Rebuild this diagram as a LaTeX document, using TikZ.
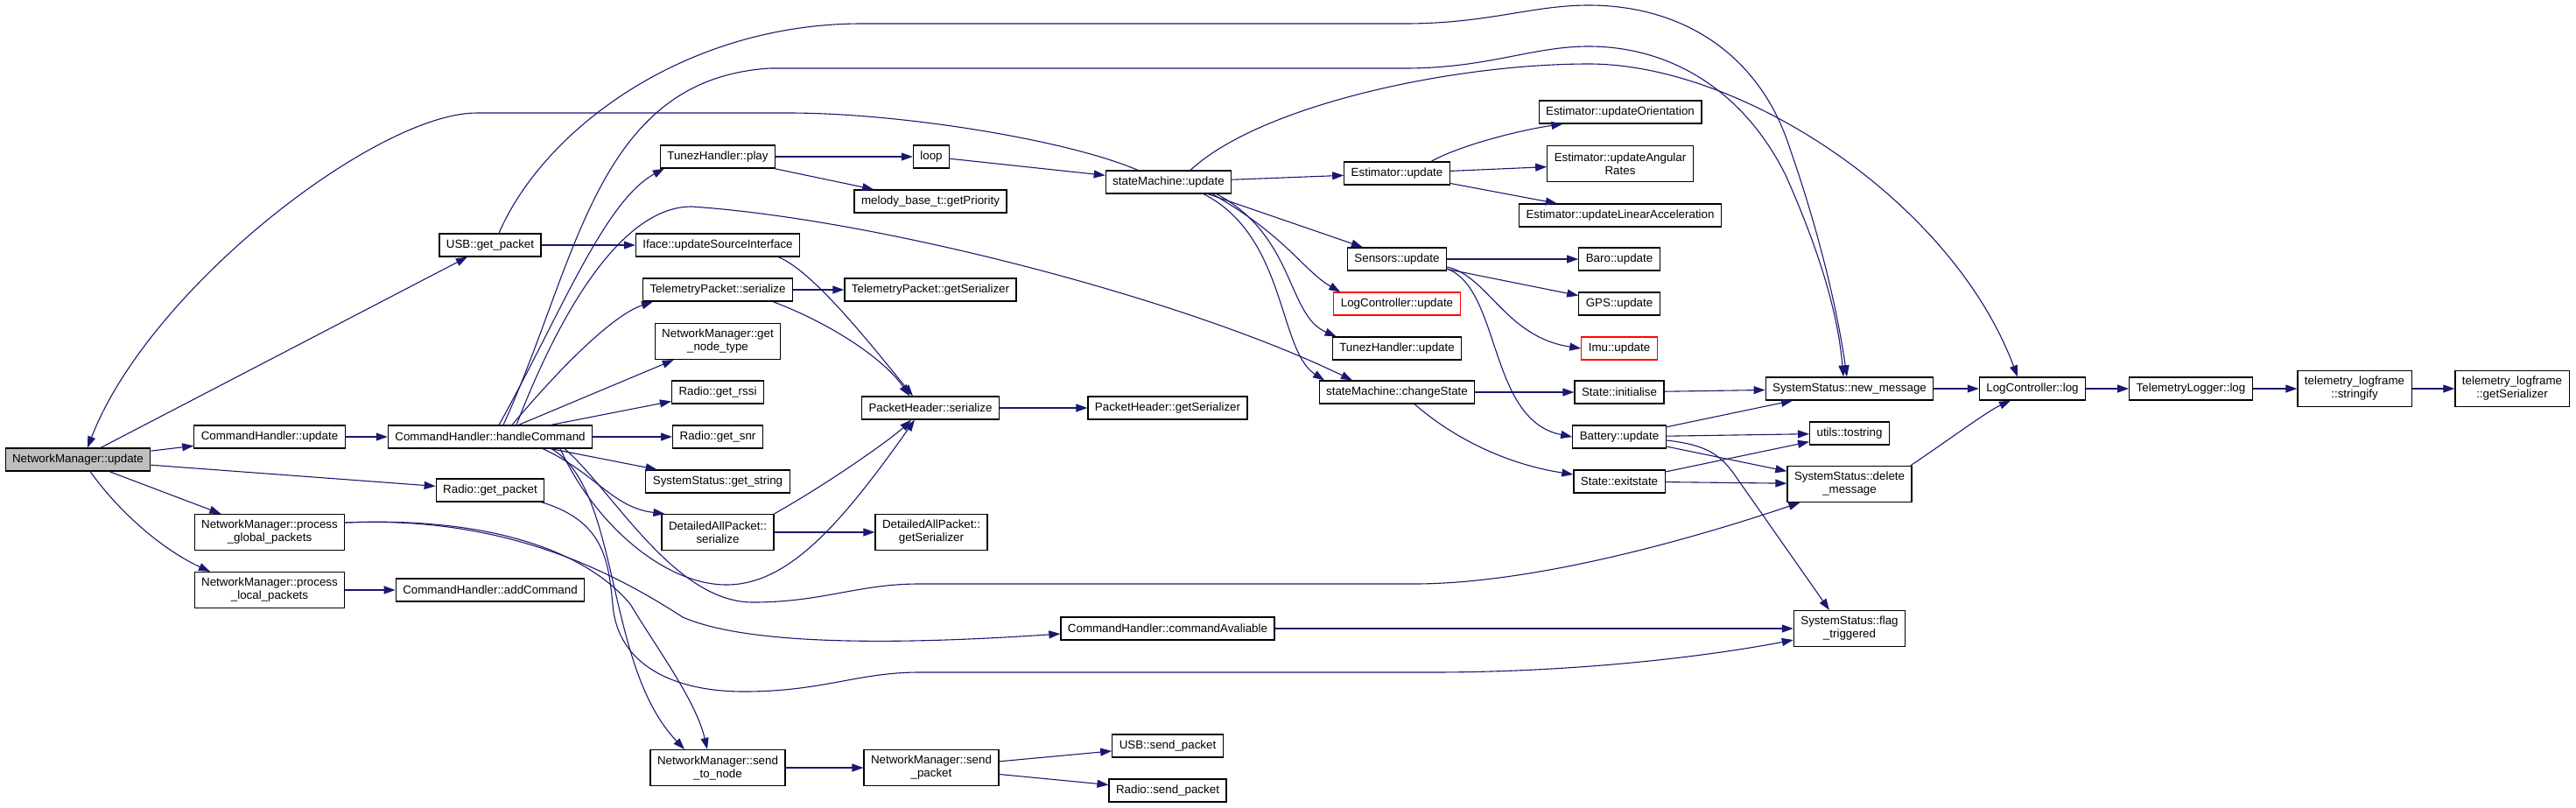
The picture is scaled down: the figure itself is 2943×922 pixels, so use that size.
\documentclass[tikz,border=0pt]{standalone}
\usepackage{fontspec}
\setmainfont{Liberation Sans}
\usetikzlibrary{arrows.meta, calc}
\definecolor{edgeblue}{RGB}{25,25,112}
\definecolor{rootgray}{RGB}{191,191,191}

\begin{document}
\begin{tikzpicture}[
  x=0.5pt, y=-0.5pt,
  fn/.style={rectangle, draw=black, line width=0.6pt, fill=white, inner xsep=4pt, inner ysep=1pt,
    minimum height=13pt, align=center, font=\fontsize{6.67pt}{7.5pt}\selectfont},
  fntwo/.style={fn, minimum height=20.5pt},
  root/.style={fn, fill=rootgray},
  trunc/.style={fn, draw=red},
  call/.style={draw=edgeblue, line width=0.55pt, -{Triangle[length=6.5pt, width=4.5pt]}}
]
\useasboundingbox (0,0) rectangle (2943,922);

% functions
\node[root]  (nmupd)    at (89,525)  {NetworkManager::update};
\node[fn]    (usbget)   at (560,280) {USB::get\_packet};
\node[fn]    (chupd)    at (308,499) {CommandHandler::update};
\node[fn]    (handle)   at (560,499) {CommandHandler::handleCommand};
\node[fn]    (radioget) at (560,560) {Radio::get\_packet};
\node[fntwo] (global)   at (308,608) {NetworkManager::process\\\_global\_packets};
\node[fntwo] (local)    at (308,674) {NetworkManager::process\\\_local\_packets};
\node[fn]    (addcmd)   at (560,674) {CommandHandler::addCommand};
\node[fn]    (play)     at (820,179) {TunezHandler::play};
\node[fn]    (iface)    at (820,280) {Iface::updateSourceInterface};
\node[fn]    (tpser)    at (820,331) {TelemetryPacket::serialize};
\node[fntwo] (nodetype) at (820,390) {NetworkManager::get\\\_node\_type};
\node[fn]    (rssi)     at (820,448) {Radio::get\_rssi};
\node[fn]    (snr)      at (820,499) {Radio::get\_snr};
\node[fn]    (getstr)   at (820,550) {SystemStatus::get\_string};
\node[fntwo] (daser)    at (820,608) {DetailedAllPacket::\\serialize};
\node[fntwo] (sendnode) at (820,877) {NetworkManager::send\\\_to\_node};
\node[fn]    (loop)     at (1064,179) {loop};
\node[fn]    (prio)     at (1063,230) {melody\_base\_t::getPriority};
\node[fn]    (tpgetser) at (1063,331) {TelemetryPacket::getSerializer};
\node[fn]    (phser)    at (1063,466) {PacketHeader::serialize};
\node[fntwo] (dagetser) at (1064,608) {DetailedAllPacket::\\getSerializer};
\node[fntwo] (sendpkt)  at (1064,877) {NetworkManager::send\\\_packet};
\node[fn]    (smupd)    at (1335,208) {stateMachine::update};
\node[fn]    (phgetser) at (1334,466) {PacketHeader::getSerializer};
\node[fn]    (cmdavail) at (1334,718) {CommandHandler::commandAvaliable};
\node[fn]    (usbsend)  at (1334,852) {USB::send\_packet};
\node[fn]    (radiosend) at (1334,903) {Radio::send\_packet};
\node[fn]    (estupd)   at (1596,198) {Estimator::update};
\node[fn]    (sensors)  at (1596,296) {Sensors::update};
\node[trunc] (logupd)   at (1596,347) {LogController::update};
\node[fn]    (tunezupd) at (1596,398) {TunezHandler::update};
\node[fn]    (change)   at (1596,448) {stateMachine::changeState};
\node[fn]    (orient)   at (1851,128) {Estimator::updateOrientation};
\node[fntwo] (angular)  at (1851,187) {Estimator::updateAngular\\Rates};
\node[fn]    (linacc)   at (1851,246) {Estimator::updateLinearAcceleration};
\node[fn]    (baro)     at (1850,296) {Baro::update};
\node[fn]    (gps)      at (1850,347) {GPS::update};
\node[trunc] (imu)      at (1850,398) {Imu::update};
\node[fn]    (init)     at (1850,448) {State::initialise};
\node[fn]    (battery)  at (1850,499) {Battery::update};
\node[fn]    (exitst)   at (1850,550) {State::exitstate};
\node[fn]    (newmsg)   at (2113,444) {SystemStatus::new\_message};
\node[fn]    (tostr)    at (2113,495) {utils::tostring};
\node[fntwo] (delmsg)   at (2113,553) {SystemStatus::delete\\\_message};
\node[fntwo] (flag)     at (2113,718) {SystemStatus::flag\\\_triggered};
\node[fn]    (logctl)   at (2322,444) {LogController::log};
\node[fn]    (tlmlog)   at (2503,444) {TelemetryLogger::log};
\node[fntwo] (stringify) at (2690,444) {telemetry\_logframe\\::stringify};
\node[fntwo] (frameser) at (2870,444) {telemetry\_logframe\\::getSerializer};

% NetworkManager::update
\draw[call] (nmupd) -- (usbget);
\draw[call] (nmupd) -- (chupd);
\draw[call] (nmupd) -- (radioget);
\draw[call] (nmupd) -- (global);
\draw[call] ($(nmupd.south)+(14,0)$) .. controls (140,590) and (190,630) .. ($(local.north)+(-68,0)$);
\draw[call] (local) -- (addcmd);
\draw[call] ($(global.east)+(0,-11)$) .. controls (560,590) and (680,640) .. (780,705)
  .. controls (860,740) and (1050,735) .. ($(cmdavail.west)+(0,6)$);
\draw[call] ($(global.east)+(0,-11)$) .. controls (560,590) and (670,630) .. (720,690)
  .. controls (750,740) and (795,800) .. ($(sendnode.north)+(-12,0)$);

% Radio::get_packet
\draw[call] ($(radioget.south east)+(-4,0)$) .. controls (690,595) and (695,640) .. (700,690)
  .. controls (705,760) and (770,790) .. (850,790) .. controls (940,790) and (980,768) .. (1050,768)
  -- (1635,768) .. controls (1800,768) and (1950,750) .. ($(flag.west)+(0,13)$);

% CommandHandler::handleCommand
\draw[call] (chupd) -- (handle);
\draw[call] (handle) -- (snr);
\draw[call] (handle) -- (nodetype);
\draw[call] (handle) -- (rssi);
\draw[call] (handle) -- (getstr);
\draw[call] ($(handle.north)+(10,0)$) .. controls (640,360) and (690,230) .. ($(play.south west)+(5,0)$);
\draw[call] ($(handle.north)+(25,0)$) .. controls (640,420) and (700,360) .. ($(tpser.south west)+(12,0)$);
\draw[call] ($(handle.north)+(15,0)$) .. controls (660,300) and (680,90) .. (880,78) -- (1605,78)
  .. controls (1700,78) and (1750,53) .. (1815,53) .. controls (1905,53) and (1990,100) .. (2040,200)
  .. controls (2080,290) and (2100,360) .. ($(newmsg.north)+(-7,0)$);
\draw[call] ($(handle.north)+(30,0)$) .. controls (650,330) and (720,236) .. (790,236)
  .. controls (1000,250) and (1350,340) .. ($(change.north)+(-51,0)$);
\draw[call] ($(handle.south)+(60,0)$) .. controls (680,540) and (700,580) .. ($(daser.north west)+(4,0)$);
\draw[call] ($(handle.south)+(80,0)$) .. controls (680,600) and (760,668) .. (830,668)
  .. controls (900,668) and (960,600) .. ($(phser.south)+(-18,0)$);
\draw[call] ($(handle.south)+(85,0)$) .. controls (700,560) and (770,688) .. (860,688)
  .. controls (940,688) and (980,667) .. (1050,667) -- (1615,667)
  .. controls (1760,667) and (1950,610) .. ($(delmsg.south west)+(15,0)$);
\draw[call] ($(handle.south)+(70,0)$) .. controls (710,560) and (690,760) .. ($(sendnode.north)+(-38,0)$);

% serializers
\draw[call] (usbget) -- (iface);
\draw[call] ($(iface.south east)+(-25,0)$) .. controls (930,310) and (1000,400) .. ($(phser.north)+(-20,0)$);
\draw[call] ($(tpser.south east)+(-23,0)$) .. controls (950,370) and (1010,410) .. ($(phser.north)+(-24,0)$);
\draw[call] (tpser) -- (tpgetser);
\draw[call] (daser.north east) .. controls (950,550) and (1020,500) .. ($(phser.south)+(-22,0)$);
\draw[call] (daser) -- (dagetser);
\draw[call] (phser) -- (phgetser);

% tunes and sending
\draw[call] (play) -- (loop);
\draw[call] (play) -- (prio);
\draw[call] (loop) -- (smupd);
\draw[call] (sendnode) -- (sendpkt);
\draw[call] (sendpkt) -- (usbsend);
\draw[call] (sendpkt) -- (radiosend);

% USB::get_packet -> SystemStatus::new_message
\draw[call] ($(usbget.north)+(10,0)$) .. controls (620,150) and (780,27) .. (985,27) -- (1605,27)
  .. controls (1700,27) and (1750,6) .. (1815,6) .. controls (1920,6) and (2010,60) .. (2045,170)
  .. controls (2080,270) and (2100,360) .. ($(newmsg.north)+(-3,0)$);

% stateMachine::update
\draw[call] ($(smupd.north)+(-35,0)$) .. controls (1220,160) and (1030,129) .. (900,129) -- (545,129)
  .. controls (430,129) and (170,330) .. ($(nmupd.north)+(11,0)$);
\draw[call] ($(smupd.north)+(25,0)$) .. controls (1440,120) and (1660,73) .. (1815,73)
  .. controls (1990,73) and (2230,230) .. ($(logctl.north)+(-17,0)$);
\draw[call] (smupd) -- (estupd);
\draw[call] ($(smupd.south)+(45,0)$) -- ($(sensors.north west)+(18,0)$);
\draw[call] ($(smupd.south)+(50,0)$) .. controls (1470,270) and (1490,310) .. ($(logupd.north west)+(8,0)$);
\draw[call] ($(smupd.south)+(55,0)$) .. controls (1480,270) and (1470,360) .. ($(tunezupd.north west)+(5,0)$);
\draw[call] ($(smupd.south)+(40,0)$) .. controls (1470,270) and (1460,400) .. ($(change.north)+(-83,0)$);

% Estimator and Sensors
\draw[call] ($(estupd.north)+(39,0)$) .. controls (1670,165) and (1740,148) .. ($(orient.south west)+(28,0)$);
\draw[call] (estupd) -- (angular);
\draw[call] (estupd) -- (linacc);
\draw[call] (sensors) -- (baro);
\draw[call] (sensors) -- (gps);
\draw[call] ($(sensors.east)+(0,9)$) .. controls (1700,315) and (1720,385) .. (imu.west);
\draw[call] ($(sensors.east)+(0,11)$) .. controls (1715,330) and (1700,480) .. (battery.west);

% changeState and the status calls
\draw[call] (change) -- (init);
\draw[call] ($(change.south)+(20,0)$) .. controls (1660,500) and (1720,530) .. ($(exitst.west)+(0,-8)$);
\draw[call] (init) -- (newmsg);
\draw[call] (battery) -- (newmsg);
\draw[call] (battery) -- (tostr);
\draw[call] (battery) -- (delmsg);
\draw[call] ($(battery.east)+(0,4)$) .. controls (1950,508) and (1965,520) .. (1980,540) -- ($(flag.north)+(-23,0)$);
\draw[call] (exitst) -- (tostr);
\draw[call] (exitst) -- (delmsg);
\draw[call] (cmdavail) -- (flag);

% logging chain
\draw[call] (newmsg) -- (logctl);
\draw[call] ($(delmsg.north east)+(-2,0)$) .. controls (2230,500) and (2270,470) .. ($(logctl.south)+(-25,0)$);
\draw[call] (logctl) -- (tlmlog);
\draw[call] (tlmlog) -- (stringify);
\draw[call] (stringify) -- (frameser);
\end{tikzpicture}
\end{document}
